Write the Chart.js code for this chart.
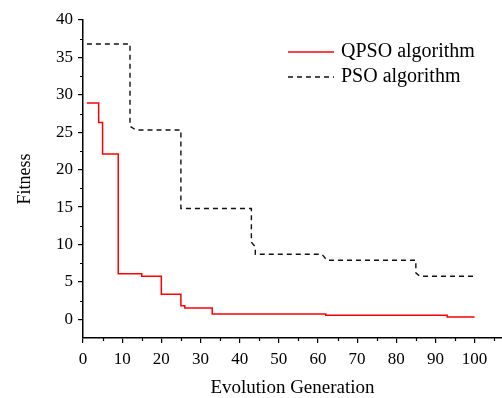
<!DOCTYPE html>
<html>
<head>
<meta charset="utf-8">
<script src="https://cdn.jsdelivr.net/npm/chart.js@4.4.1/dist/chart.umd.min.js"></script>
<style>
  body { margin: 0; background: #fff; }
  #wrap { width: 502px; height: 398px; position: relative; }
</style>
</head>
<body>
<div id="wrap"><canvas id="grafico"></canvas></div>
<script>
// datos
var qpsoGen = [1, 4, 5, 9, 15, 20, 25, 26, 33, 62, 93, 100];
var qpsoFit = [28.9, 26.3, 22.1, 6.1, 5.75, 3.35, 1.8, 1.5, 0.72, 0.55, 0.32, 0.32];

var psoGen = [1, 12, 12, 13.5, 25, 25, 43, 43, 44, 44, 61, 62.3, 85, 85, 86, 100];
var psoFit = [36.8, 36.8, 25.8, 25.3, 25.3, 14.8, 14.8, 10.3, 9.7, 8.7, 8.7, 7.9, 7.9, 6.2, 5.75, 5.75];

var xTicks = [0, 10, 20, 30, 40, 50, 60, 70, 80, 90, 100];
var yTicks = [0, 5, 10, 15, 20, 25, 30, 35, 40];
var xMinor = [5, 15, 25, 35, 45, 55, 65, 75, 85, 95, 105];
var yMinor = [2.5, 7.5, 12.5, 17.5, 22.5, 27.5, 32.5, 37.5];

var etiquetas = ['QPSO algorithm', 'PSO algorithm'];

var fuente = "'Liberation Serif', 'Times New Roman', serif";

function puntos(xs, ys){
    return xs.map(function(x, i){ return {x: x, y: ys[i]}; });
}

// marcas menores y leyenda
var extras = {
    id: 'extras',
    afterDraw: function(chart){
        var ctx = chart.ctx;
        var area = chart.chartArea;
        var sx = chart.scales.x, sy = chart.scales.y;
        ctx.save();
        ctx.strokeStyle = '#000';
        ctx.lineWidth = 1.2;
        ctx.beginPath();
        xMinor.forEach(function(v){
            var px = Math.round(sx.getPixelForValue(v)) + 0.5;
            ctx.moveTo(px, area.bottom);
            ctx.lineTo(px, area.bottom + 3);
        });
        yMinor.forEach(function(v){
            var py = Math.round(sy.getPixelForValue(v)) + 0.5;
            ctx.moveTo(area.left, py);
            ctx.lineTo(area.left - 3, py);
        });
        ctx.stroke();

        // leyenda
        chart.data.datasets.forEach(function(ds, i){
            var y = 52 + i * 25;
            ctx.beginPath();
            ctx.strokeStyle = ds.borderColor;
            ctx.lineWidth = ds.borderWidth;
            ctx.setLineDash(ds.borderDash || []);
            ctx.moveTo(288, y);
            ctx.lineTo(334, y);
            ctx.stroke();
            ctx.setLineDash([]);
            ctx.fillStyle = '#000';
            ctx.font = '20px ' + fuente;
            ctx.textAlign = 'left';
            ctx.textBaseline = 'middle';
            ctx.fillText(ds.label, 341, y);
        });
        ctx.restore();
    }
};

var ctx = document.getElementById('grafico');

new Chart(ctx, {
    type: 'line',
    data: {
        datasets: [
            {
                label: etiquetas[0],
                data: puntos(qpsoGen, qpsoFit),
                borderColor: '#ff0000',
                borderWidth: 1.5,
                stepped: true,
                pointRadius: 0,
                fill: false
            },
            {
                label: etiquetas[1],
                data: puntos(psoGen, psoFit),
                borderColor: '#111111',
                borderWidth: 1.4,
                borderDash: [5, 4],
                pointRadius: 0,
                tension: 0,
                fill: false
            }
        ]
    },
    options: {
        responsive: true,
        maintainAspectRatio: false,
        animation: false,
        layout: { padding: { top: 20, right: 0, left: 0, bottom: 0 } },
        plugins: {
            legend: { display: false },
            tooltip: { enabled: false }
        },
        scales: {
            x: {
                type: 'linear',
                min: 0,
                max: 107,
                afterBuildTicks: function(scale){
                    scale.ticks = xTicks.map(function(v){ return {value: v}; });
                },
                afterFit: function(scale){ scale.height = 60; },
                grid: { drawOnChartArea: false, drawTicks: true, tickLength: 5, color: '#000', lineWidth: 1.2 },
                border: { display: true, color: '#000', width: 1.5 },
                ticks: { color: '#000', padding: 6, maxRotation: 0, font: { family: fuente, size: 17 } },
                title: {
                    display: true,
                    text: 'Evolution Generation',
                    color: '#000',
                    font: { family: fuente, size: 19, lineHeight: 1 },
                    padding: { top: 0, bottom: 0 }
                }
            },
            y: {
                min: -2.5,
                max: 40,
                afterBuildTicks: function(scale){
                    scale.ticks = yTicks.map(function(v){ return {value: v}; });
                },
                afterFit: function(scale){ scale.width = 83; },
                grid: { drawOnChartArea: false, drawTicks: true, tickLength: 5, color: '#000', lineWidth: 1.2 },
                border: { display: true, color: '#000', width: 1.5 },
                ticks: { color: '#000', padding: 5, font: { family: fuente, size: 17 } },
                title: {
                    display: true,
                    text: 'Fitness',
                    color: '#000',
                    font: { family: fuente, size: 18, lineHeight: 1 },
                    padding: { top: 16, bottom: 0 }
                }
            }
        }
    },
    plugins: [extras]
});
</script>
</body>
</html>
